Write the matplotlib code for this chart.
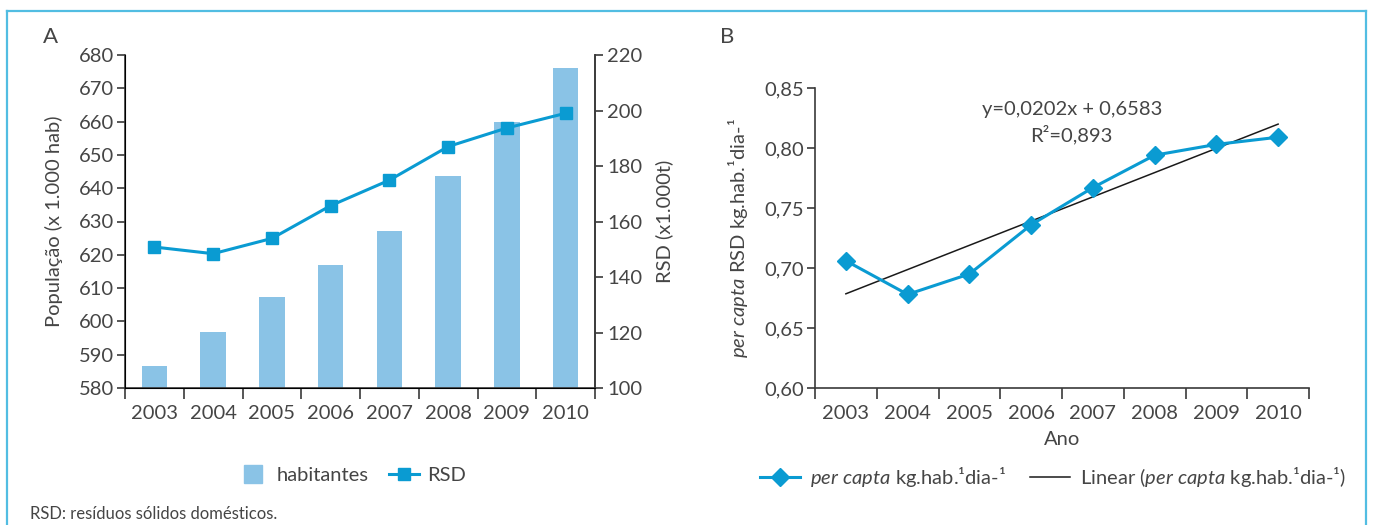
import numpy as np
import matplotlib
matplotlib.use('Agg')
import matplotlib.pyplot as plt
from matplotlib.lines import Line2D

# data
anos = ['2003', '2004', '2005', '2006', '2007', '2008', '2009', '2010']
habitantes = [586.7, 596.9, 607.4, 617.0, 627.1, 643.6, 659.8, 676.0]
rsd = [150.8, 148.4, 153.9, 165.7, 174.9, 187.0, 193.7, 199.0]
per_capta = [0.706, 0.678, 0.695, 0.736, 0.767, 0.794, 0.803, 0.809]
trend_slope = 0.0202
trend_intercept = 0.6583
trend_r2 = 0.893

pop_ticks = [580, 590, 600, 610, 620, 630, 640, 650, 660, 670, 680]
rsd_ticks = [100, 120, 140, 160, 180, 200, 220]
pc_ticks = [0.60, 0.65, 0.70, 0.75, 0.80, 0.85]

blue = '#0a9bd2'
bar_blue = '#8ac3e6'
frame_blue = '#52bde2'
txt = '#454545'
spine = '#3a3a3a'

plt.rcParams['font.family'] = ['Lato', 'DejaVu Sans']
plt.rcParams['mathtext.fontset'] = 'custom'
plt.rcParams['mathtext.it'] = 'Lato:italic'
plt.rcParams['mathtext.rm'] = 'Lato'
plt.rcParams['text.color'] = txt
plt.rcParams['axes.labelcolor'] = txt

FS = 14.5


def style_x(ax, n):
    ax.set_xlim(0, n)
    ax.set_xticks(np.arange(n) + 0.5)
    ax.set_xticklabels(anos, fontsize=FS, color=txt)
    ax.set_xticks(np.arange(n + 1), minor=True)
    ax.tick_params(axis='x', which='major', length=0, pad=12)
    ax.tick_params(axis='x', which='minor', length=8, width=1.2, color=spine)


def run():
    fig = plt.figure(figsize=(13.73, 5.25), dpi=100)
    n = len(anos)
    x = np.arange(n) + 0.5

    # frame
    top = 1 - 11 / 525
    for xs, ys in [([7 / 1373, 7 / 1373], [0, top]),
                   ([1366 / 1373, 1366 / 1373], [0, top]),
                   ([7 / 1373, 1366 / 1373], [top, top])]:
        fig.add_artist(Line2D(xs, ys, color=frame_blue, lw=1.6, transform=fig.transFigure))

    # ---- panel A
    ax = fig.add_axes([125 / 1373, 137 / 525, 470 / 1373, 333 / 525])
    ax.bar(x, habitantes, width=0.43, color=bar_blue, zorder=2)
    ax.set_ylim(580, 680)
    ax.set_yticks(pop_ticks)
    ax.tick_params(axis='y', length=6, width=1.2, color=spine, labelsize=FS, labelcolor=txt, pad=2)
    style_x(ax, n)
    ax.spines['top'].set_visible(False)
    for s in ['left', 'bottom', 'right']:
        ax.spines[s].set_color(spine)
        ax.spines[s].set_linewidth(1.2)
    ax.set_ylabel('População (x 1.000 hab)', fontsize=FS, labelpad=11)

    ax2 = ax.twinx()
    ax2.plot(x, rsd, color=blue, lw=2.2, marker='s', ms=9, zorder=3)
    ax2.set_ylim(100, 220)
    ax2.set_yticks(rsd_ticks)
    ax2.tick_params(axis='y', length=6, width=1.2, color=spine, labelsize=FS, labelcolor=txt, pad=3)
    ax2.spines['top'].set_visible(False)
    ax2.spines['right'].set_color(spine)
    ax2.spines['right'].set_linewidth(1.2)
    ax2.set_ylabel('RSD (x1.000t)', fontsize=FS, labelpad=9)

    fig.text(43 / 1373, 1 - 37 / 525, 'A', fontsize=16, va='center', ha='left')

    handles = [Line2D([], [], marker='s', ms=13, color=bar_blue, ls='none'),
               Line2D([], [], color=blue, lw=2.2, marker='s', ms=9)]
    fig.legend(handles, ['habitantes', 'RSD'], ncol=2, loc='center',
               bbox_to_anchor=(352 / 1373, 1 - 475 / 525), frameon=False, fontsize=FS,
               handlelength=1.5, handletextpad=0.4, columnspacing=1.0)

    # ---- panel B
    bx = fig.add_axes([815 / 1373, 137 / 525, 494 / 1373, 300 / 525])
    bx.plot(x, per_capta, color=blue, lw=2.2, marker='D', ms=9, zorder=3)
    xi = np.arange(1, n + 1)
    bx.plot(x, trend_slope * xi + trend_intercept, color='#1a1a1a', lw=1.1, zorder=2)
    bx.set_ylim(0.60, 0.85)
    bx.set_yticks(pc_ticks)
    bx.set_yticklabels([f'{v:.2f}'.replace('.', ',') for v in pc_ticks])
    bx.tick_params(axis='y', length=6, width=1.2, color=spine, labelsize=FS, labelcolor=txt, pad=2)
    style_x(bx, n)
    for s in ['top', 'right']:
        bx.spines[s].set_visible(False)
    for s in ['left', 'bottom']:
        bx.spines[s].set_color(spine)
        bx.spines[s].set_linewidth(1.2)
    bx.set_ylabel(r'$\mathit{per\ capta}$ RSD kg.hab.¹dia-¹', fontsize=FS, labelpad=10)
    bx.set_xlabel('Ano', fontsize=FS, labelpad=7)

    eq = f'y={trend_slope:.4f}x + {trend_intercept:.4f}'.replace('.', ',')
    r2 = f'R²={trend_r2:.3f}'.replace('.', ',')
    fig.text(1072 / 1373, 1 - 110 / 525, eq, fontsize=FS, ha='center', va='center')
    fig.text(1071 / 1373, 1 - 135 / 525, r2, fontsize=FS, ha='center', va='center')

    fig.text(720 / 1373, 1 - 37 / 525, 'B', fontsize=16, va='center', ha='left')

    handles = [Line2D([], [], color=blue, lw=2.2, marker='D', ms=9),
               Line2D([], [], color='#1a1a1a', lw=1.1)]
    labels = [r'$\mathit{per\ capta}$ kg.hab.¹dia-¹',
              r'Linear ($\mathit{per\ capta}$ kg.hab.¹dia-¹)']
    fig.legend(handles, labels, ncol=2, loc='center',
               bbox_to_anchor=(1053 / 1373, 1 - 477 / 525), frameon=False, fontsize=FS,
               handlelength=2.0, handletextpad=0.5, columnspacing=1.2)

    fig.text(30 / 1373, 1 - 514 / 525, 'RSD: resíduos sólidos domésticos.', fontsize=12,
             ha='left', va='center')

    fig.savefig('out.png', dpi=100)
    plt.close(fig)


if __name__ == '__main__':
    run()
